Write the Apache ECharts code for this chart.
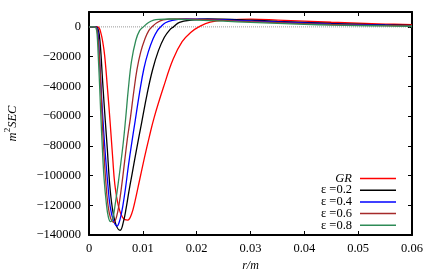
<!DOCTYPE html>
<html>
<head>
<meta charset="utf-8">
<script src="https://cdn.jsdelivr.net/npm/echarts@6/dist/echarts.min.js"></script>
<style>
html,body{margin:0;padding:0;background:#fff;}
#c{width:436px;height:273px;}
</style>
</head>
<body>
<div id="c"></div>
<script>
// ---- data (x = r/m, y = m^2 SEC) ----
const seriesNames = ['GR', 'ε =0.2', 'ε =0.4', 'ε =0.6', 'ε =0.8'];
const seriesColors = ['#ff0000', '#000000', '#0000ff', '#a52a2a', '#2e8b57'];

const grData = [[0,0],[0.0015,0],[0.0019,-800],[0.0022,-4000],[0.0025,-9000],[0.0029,-19000],[0.0034,-40000],[0.0039,-63000],[0.0044,-88000],[0.0048,-106000],[0.0055,-121000],[0.0063,-128500],[0.0072,-130000],[0.0079,-126000],[0.0085,-118000],[0.0094,-103000],[0.0103,-88000],[0.0112,-74000],[0.0121,-61000],[0.0138,-41000],[0.0156,-22000],[0.0173,-10000],[0.019,-3500],[0.0204,0],[0.0225,3200],[0.026,4700],[0.03,5200],[0.035,4600],[0.04,3800],[0.045,3100],[0.05,2500],[0.055,1900],[0.06,1500]];

const eps02Data = [[0,0],[0.0013,0],[0.0016,-800],[0.0019,-5000],[0.0022,-17000],[0.0025,-35000],[0.003,-62000],[0.0034,-82000],[0.0038,-104000],[0.0043,-121000],[0.005,-133000],[0.0058,-136800],[0.0064,-131000],[0.0069,-122000],[0.0074,-111000],[0.008,-99000],[0.0088,-83000],[0.0098,-64000],[0.0108,-45000],[0.0118,-29000],[0.0129,-16000],[0.014,-7000],[0.015,-2000],[0.0157,0],[0.0168,3000],[0.019,4600],[0.022,5300],[0.025,5200],[0.03,4500],[0.035,3700],[0.04,3000],[0.045,2300],[0.05,1800],[0.055,1300],[0.06,1000]];

const eps04Data = [[0,0],[0.0012,0],[0.0015,-800],[0.0017,-5000],[0.0019,-17000],[0.0022,-38000],[0.0026,-63000],[0.003,-84000],[0.0035,-106000],[0.0039,-120000],[0.0045,-130000],[0.0052,-134000],[0.0058,-129000],[0.0063,-120000],[0.0068,-108000],[0.0073,-94000],[0.0079,-79000],[0.0086,-62700],[0.0094,-44000],[0.0102,-28000],[0.011,-17000],[0.0119,-8000],[0.0127,-2500],[0.0133,0],[0.0142,2800],[0.0155,4400],[0.018,5400],[0.022,5100],[0.025,4800],[0.03,4000],[0.035,3300],[0.04,2600],[0.045,2000],[0.05,1500],[0.055,1100],[0.06,800]];

const eps06Data = [[0,0],[0.0011,0],[0.0014,-800],[0.0016,-5000],[0.0019,-18000],[0.0022,-40000],[0.0024,-58000],[0.0027,-80000],[0.0031,-103000],[0.0035,-119000],[0.004,-128500],[0.0046,-131500],[0.0051,-128000],[0.0056,-119000],[0.0061,-106000],[0.0066,-91000],[0.0071,-76000],[0.0077,-61000],[0.0083,-44000],[0.0089,-29000],[0.0096,-17000],[0.0104,-8000],[0.0111,-2500],[0.0117,0],[0.0126,2800],[0.0138,4700],[0.016,5400],[0.02,5100],[0.025,4300],[0.03,3500],[0.035,2800],[0.04,2200],[0.045,1600],[0.05,1200],[0.055,900],[0.06,600]];

const eps08Data = [[0,0],[0.001,0],[0.0013,-800],[0.0015,-5000],[0.0017,-18000],[0.002,-42000],[0.0022,-60000],[0.0025,-83000],[0.0028,-102000],[0.0032,-118000],[0.0036,-128000],[0.004,-131000],[0.0044,-129000],[0.0048,-121000],[0.0054,-106000],[0.0063,-80000],[0.0068,-62000],[0.0073,-42000],[0.0079,-23000],[0.0087,-9000],[0.0094,-2500],[0.0101,0],[0.011,2800],[0.012,4500],[0.013,5100],[0.015,5300],[0.02,4600],[0.025,3800],[0.03,3000],[0.035,2300],[0.04,1700],[0.045,1200],[0.05,900],[0.055,600],[0.06,400]];

const zeroLine = [[0,0],[0.06,0]];
const allData = [grData, eps02Data, eps04Data, eps06Data, eps08Data];

// ---- chart ----
const FONT = '"Liberation Serif","DejaVu Serif",serif';
const frame = {show:true, onZero:false, lineStyle:{color:'#000', width:2}};
const tickIn = {show:true, inside:true, length:4, lineStyle:{color:'#000', width:1}};
const fmtMinus = v => String(v).replace('-', '\u2212');

const series = [{
  name:'zero', type:'line', data:zeroLine, showSymbol:false, symbol:'none', silent:true,
  lineStyle:{color:'#999', width:1, type:[1,1]}, z:1
}];
allData.forEach((d, i) => {
  series.push({
    name: seriesNames[i], type:'line', data:d, symbol:'none', showSymbol:false,
    smooth:0.4,
    lineStyle:{color:seriesColors[i], width:1.3}, itemStyle:{color:seriesColors[i]}, z:2+i
  });
});

const chart = echarts.init(document.getElementById('c'), null, {renderer:'canvas'});
chart.setOption({
  animation:false,
  backgroundColor:'#fff',
  grid:{left:89, right:24, top:12, bottom:38, outerBoundsMode:'none'},
  legend:{
    data: seriesNames, orient:'vertical', align:'right', right:40, top:172, padding:0,
    itemWidth:36, itemHeight:1.5, itemGap:-1.3, icon:'rect',
    textStyle:{fontFamily:FONT, fontSize:12.5, lineHeight:11.7, color:'#000', padding:[0,3,0,0],
      rich:{i:{fontFamily:FONT, fontSize:12.5, fontStyle:'italic', color:'#000', lineHeight:11.7}}},
    formatter: n => (n === 'GR' ? '{i|GR}' : n)
  },
  xAxis:[{
    type:'value', min:0, max:0.06, interval:0.01, position:'bottom',
    axisLine:frame, axisTick:tickIn, splitLine:{show:false},
    axisLabel:{fontFamily:FONT, fontSize:12.5, color:'#000', margin:7},
    name:'r/m', nameLocation:'middle', nameGap:22,
    nameTextStyle:{fontFamily:FONT, fontSize:12, fontStyle:'italic', color:'#000'}
  },{
    type:'value', min:0, max:0.06, interval:0.01, position:'top',
    axisLine:frame, axisTick:tickIn, axisLabel:{show:false}, splitLine:{show:false}
  }],
  yAxis:[{
    type:'value', min:-140000, max:10000, interval:20000, position:'left',
    axisLine:frame, axisTick:tickIn, splitLine:{show:false},
    axisLabel:{fontFamily:FONT, fontSize:12.5, color:'#000', margin:8, formatter:fmtMinus, showMaxLabel:false},
    name:'{a|m}{s|2}{a|SEC}', nameLocation:'middle', nameGap:70,
    nameTextStyle:{fontFamily:FONT, fontSize:12.5, fontStyle:'italic', color:'#000',
      rich:{a:{fontFamily:FONT, fontSize:12.5, fontStyle:'italic', color:'#000', verticalAlign:'bottom', lineHeight:16},
            s:{fontFamily:FONT, fontSize:9, fontStyle:'normal', color:'#000', verticalAlign:'top', lineHeight:16}}}
  },{
    type:'value', min:-140000, max:10000, interval:20000, position:'right',
    axisLine:frame, axisTick:tickIn, axisLabel:{show:false}, splitLine:{show:false}
  }],
  series: series
});
</script>
</body>
</html>
